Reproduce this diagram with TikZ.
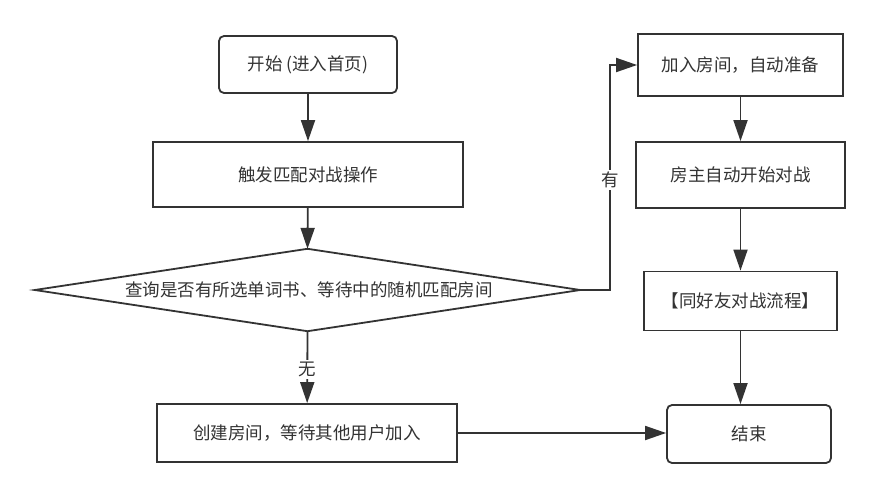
\documentclass[tikz,border=0pt]{standalone}
\usepackage{fontspec}
\setmainfont{Noto Sans CJK SC}
\usetikzlibrary{arrows.meta,shapes.geometric}
\definecolor{ln}{HTML}{333333}
\definecolor{tx}{HTML}{333333}
\tikzset{
  txt/.style={text=tx, font=\fontsize{17.5}{20}\selectfont},
  box/.style={draw=ln, line width=1.8pt, fill=white, inner sep=0pt, align=center, txt},
  rbox/.style={box, rounded corners=5pt},
  conn/.style={draw=ln, line width=1.8pt, -{Triangle[length=21pt,width=14pt]}},
  lbl/.style={fill=white, inner sep=2pt, txt}
}
\begin{document}
\begin{tikzpicture}[x=1pt,y=-1pt]
\useasboundingbox (0,0) rectangle (880,498);
\node[rbox, minimum width=178pt, minimum height=57pt] (start) at (308,64.5) {开始\hspace{4pt}(进入首页)};
\node[box, minimum width=310pt, minimum height=65pt] (trig) at (308,174.5) {触发匹配对战操作};
\node[draw=none, minimum width=545pt, minimum height=82pt, inner sep=0pt] (dbox) at (307.5,290) {};
\draw[ln, line width=1.8pt, fill=white] (dbox.west) -- (dbox.north) -- (dbox.east) -- (dbox.south) -- cycle;
\node[txt] (q) at (309,290) {查询是否有所选单词书、等待中的随机匹配房间};
\node[box, minimum width=300pt, minimum height=58pt] (create) at (307,433) {创建房间，等待其他用户加入};
\node[rbox, minimum width=164pt, minimum height=58pt] (end) at (749,434) {结束};
\node[box, minimum width=205pt, minimum height=62pt] (join) at (740.5,65) {加入房间，自动准备};
\node[box, minimum width=209pt, minimum height=66pt] (host) at (740.5,175) {房主自动开始对战};
\node[box, minimum width=193pt, minimum height=59pt] (flow) at (740.5,301) {【同好友对战流程】};
\coordinate (c1) at (610,290);
\coordinate (c2) at (610,65);
\draw[conn] (start) -- (trig);
\draw[conn] (trig) -- (dbox.north);
\draw[conn] (dbox.south) -- node[lbl, pos=0.53] (no) {无} (create);
\draw[conn] (dbox.east) -- (c1) -- node[lbl, pos=0.49] (yes) {有} (c2) -- (join);
\draw[conn] (join) -- (host);
\draw[conn] (host) -- (flow);
\draw[conn] (flow) -- (flow |- end.north);
\draw[conn] (create) -- (create -| end.west);
\end{tikzpicture}
\end{document}
